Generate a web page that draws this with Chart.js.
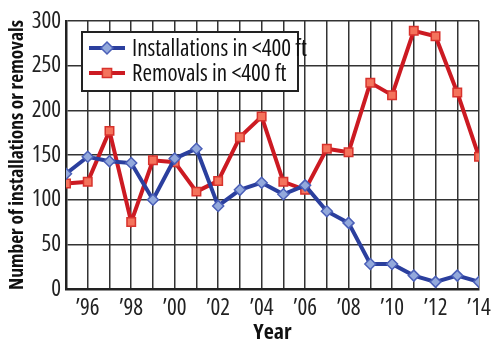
<!DOCTYPE html>
<html>
<head>
<meta charset="utf-8">
<script src="https://cdn.jsdelivr.net/npm/chart.js@4"></script>
<style>
  html, body { margin: 0; padding: 0; background: #fff; }
  #wrap { width: 500px; height: 347px; }
</style>
</head>
<body>
<div id="wrap"><canvas id="chart" width="500" height="347"></canvas></div>
<script>
const years = [1995, 1996, 1997, 1998, 1999, 2000, 2001, 2002, 2003, 2004,
    2005, 2006, 2007, 2008, 2009, 2010, 2011, 2012, 2013, 2014];
const installations = [129, 148, 143, 141, 100, 146, 157, 93, 111, 119,
    106, 116, 87, 74, 28, 28, 15, 8, 15, 8];
const removals = [118, 120, 177, 75, 144, 142, 109, 121, 170, 193,
    120, 111, 157, 153, 231, 217, 289, 283, 220, 148];
const seriesNames = ['Installations in <400 ft', 'Removals in <400 ft'];
const yTicks = [0, 50, 100, 150, 200, 250, 300];

// Open Sans at its narrowest width stands in for the condensed face
const FONT = '"Open Sans", sans-serif';
const blue = '#2b3f9e';
const blueFill = '#93a9dc';
const red = '#cc1a22';
const redFill = '#f4735c';

// legend drawn inside the plot, with a framed box
const boxLegend = {
    id: 'boxLegend',
    afterDraw(chart) {
        const ctx = chart.ctx;
        const x = 82, y = 32, w = 216, h = 59;
        ctx.save();
        ctx.fillStyle = '#fff';
        ctx.fillRect(x, y, w, h);
        ctx.strokeStyle = '#222';
        ctx.lineWidth = 2;
        ctx.strokeRect(x, y, w, h);
        const rows = [
            {c: blue, f: blueFill, b: '#4a5fb8', style: 'rectRot', r: 6, ly: 48},
            {c: red, f: redFill, b: '#d8322c', style: 'rect', r: 6.5, ly: 73}
        ];
        rows.forEach((r, i) => {
            ctx.strokeStyle = r.c;
            ctx.lineWidth = 4;
            ctx.beginPath();
            ctx.moveTo(89, r.ly);
            ctx.lineTo(125, r.ly);
            ctx.stroke();
            ctx.fillStyle = r.f;
            ctx.strokeStyle = r.b;
            ctx.lineWidth = 1.5;
            Chart.helpers.drawPoint(ctx, {pointStyle: r.style, radius: r.r, borderWidth: 1.5}, 107, r.ly);
            ctx.fillStyle = '#111';
            ctx.font = 'condensed 23px ' + FONT;
            ctx.textBaseline = 'middle';
            ctx.fillText(seriesNames[i], 132, r.ly + 1);
        });
        ctx.restore();
    }
};

new Chart(document.getElementById('chart'), {
    type: 'line',
    data: {
        labels: years,
        datasets: [{
            label: seriesNames[0],
            data: installations,
            borderColor: blue,
            backgroundColor: blueFill,
            borderWidth: 4,
            pointStyle: 'rectRot',
            pointRadius: 5.5,
            pointBorderWidth: 1.5,
            pointBorderColor: '#4a5fb8',
            pointBackgroundColor: blueFill,
            tension: 0
        }, {
            label: seriesNames[1],
            data: removals,
            borderColor: red,
            backgroundColor: redFill,
            borderWidth: 4,
            pointStyle: 'rect',
            pointRadius: 6,
            pointBorderWidth: 1.5,
            pointBorderColor: '#d8322c',
            pointBackgroundColor: redFill,
            tension: 0
        }]
    },
    options: {
        responsive: false,
        animation: false,
        layout: {padding: {left: 0, right: 21, top: 21, bottom: 0}},
        plugins: {
            legend: {display: false},
            tooltip: {enabled: false}
        },
        scales: {
            x: {
                type: 'linear',
                min: 1995,
                max: 2014,
                afterBuildTicks: function(axis) {
                    axis.ticks = years.map(v => ({value: v}));
                },
                afterFit: function(axis) { axis.height = 58; },
                grid: {color: '#333', lineWidth: 1.5, drawTicks: false},
                border: {color: '#222', width: 2.5},
                ticks: {
                    autoSkip: false,
                    maxRotation: 0,
                    padding: 6,
                    color: '#222',
                    font: {family: FONT, size: 23, weight: 'condensed'},
                    callback: function(value) {
                        if (value % 2 === 0) return '\u2019' + String(value).slice(2);
                        return '';
                    }
                },
                title: {
                    display: true,
                    text: 'Year',
                    color: '#111',
                    padding: {top: 0, bottom: 1},
                    font: {family: FONT, size: 22, weight: 'bold condensed'}
                }
            },
            y: {
                min: 0,
                max: 300,
                afterBuildTicks: function(axis) {
                    axis.ticks = yTicks.map(v => ({value: v}));
                },
                afterFit: function(axis) { axis.width = 66; },
                grid: {color: '#333', lineWidth: 1.5, drawTicks: false},
                border: {color: '#222', width: 2.5},
                ticks: {
                    padding: 5,
                    color: '#222',
                    font: {family: FONT, size: 23, weight: 'condensed'}
                },
                title: {
                    display: true,
                    text: 'Number of installations or removals',
                    color: '#111',
                    padding: {top: 6, bottom: 0},
                    font: {family: FONT, size: 19.5, weight: 'bold condensed'}
                }
            }
        }
    },
    plugins: [boxLegend]
});
</script>
</body>
</html>
